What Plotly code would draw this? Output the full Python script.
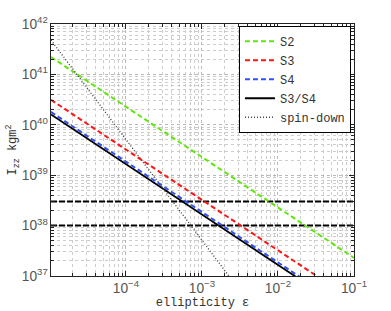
import numpy as np
import plotly.graph_objects as go

# ellipticity range (log10) across the axis
eps_log_range = [-4.985, -1.0]
eps = np.logspace(eps_log_range[0], eps_log_range[1], 60)

# upper-limit curves: I_zz = C / eps  (log10 C)
series_names = ["S2", "S3", "S4", "S3/S4"]
series_logC = [36.36, 35.51, 35.27, 35.22]
series_colors = ["#5fe60a", "#ff1414", "#3050ff", "#000000"]
series_dash = ["dash", "dash", "dash", "solid"]

# spin-down curve: I_zz = C / eps^2
spindown_logC = 31.71

# horizontal reference levels
hlines = [3e38, 1e38]

MONO = "Liberation Mono"

fig = go.Figure()

for h in hlines:
    fig.add_trace(go.Scatter(
        x=[10 ** eps_log_range[0], 10 ** eps_log_range[1]], y=[h, h],
        mode="lines", line=dict(color="black", width=2, dash="6px,2px"),
        showlegend=False, hoverinfo="skip"))

for name, lc, col, d in zip(series_names, series_logC, series_colors, series_dash):
    fig.add_trace(go.Scatter(
        x=eps, y=10 ** lc / eps, mode="lines", name=name,
        line=dict(color=col, width=2 if d == "dash" else 1.8,
                  dash="5px,3px" if d == "dash" else "solid")))

fig.add_trace(go.Scatter(
    x=eps, y=10 ** spindown_logC / eps ** 2, mode="lines", name="spin-down",
    line=dict(color="#444444", width=1.4, dash="1px,2px")))

axis_common = dict(
    type="log", showline=True, linecolor="#222222", linewidth=1, mirror="ticks",
    ticks="inside", ticklen=5, tickcolor="#222222", automargin=False,
    showgrid=True, gridcolor="#b8b8b8", griddash="dot", gridwidth=1,
    exponentformat="power", zeroline=False,
    tickfont=dict(family="Liberation Sans", size=11, color="#555555"),
    minor=dict(ticks="inside", ticklen=3, tickcolor="#222222",
               showgrid=True, gridcolor="#cccccc", griddash="dot", gridwidth=1),
)

fig.update_xaxes(**axis_common, range=eps_log_range, dtick=1,
                 title=dict(text="ellipticity ε", standoff=0,
                            font=dict(family=MONO, size=12, color="#333333")))
fig.update_yaxes(**axis_common, range=[37, 42], dtick=1,
                 title=dict(text="I<sub>zz</sub> kgm<sup>2</sup>", standoff=0,
                            font=dict(family=MONO, size=12, color="#333333")))

fig.update_layout(
    width=391, height=311,
    margin=dict(l=51, r=37, t=24, b=35),
    plot_bgcolor="white", paper_bgcolor="white",
    legend=dict(x=0.99, y=0.993, xanchor="right", yanchor="top",
                bgcolor="white", bordercolor="black", borderwidth=1,
                font=dict(family=MONO, size=12, color="#333333"),
                tracegroupgap=0, itemwidth=30),
)

fig.write_html("out.html", config={"displayModeBar": False},
               post_script="document.body.style.margin='0';document.body.style.overflow='hidden';")
